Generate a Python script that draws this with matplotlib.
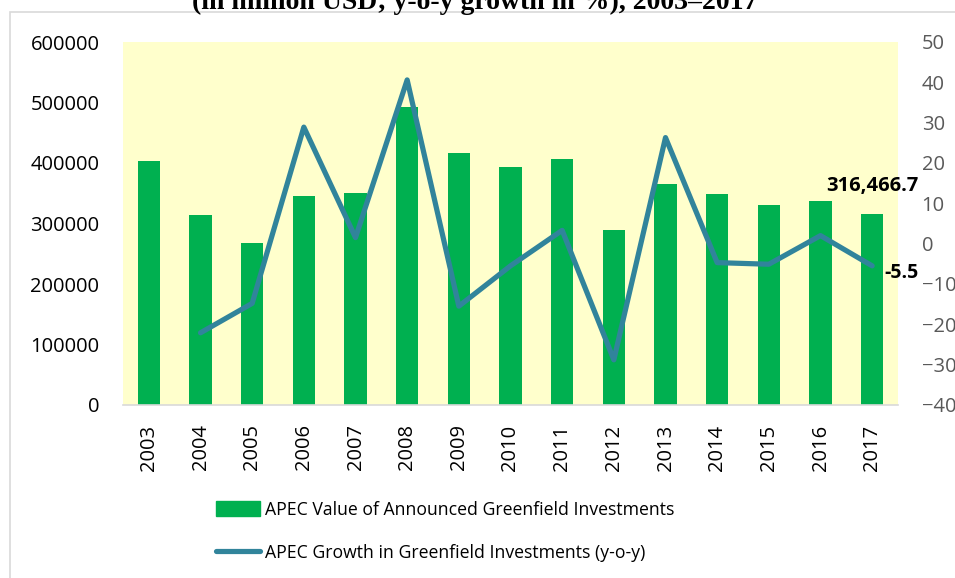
import matplotlib.pyplot as plt
import matplotlib.patches as mpatches
from matplotlib.lines import Line2D
import numpy as np

# data
years = ['2003', '2004', '2005', '2006', '2007', '2008', '2009', '2010',
         '2011', '2012', '2013', '2014', '2015', '2016', '2017']
value = [403000, 314000, 268000, 345000, 350000, 492000, 416000, 393000,
         406000, 289000, 365000, 348000, 330000, 337000, 316466.7]
growth = [np.nan, -22.1, -14.8, 28.9, 1.5, 40.6, -15.5, -5.5,
          3.3, -28.8, 26.3, -4.7, -5.1, 2.0, -5.5]

W, H = 955, 578
fig = plt.figure(figsize=(W / 100, H / 100), dpi=100)
plt.rcParams['font.family'] = ['Open Sans', 'DejaVu Sans']

# outer chart frame (top/left only visible)
fig.patches.append(mpatches.Rectangle((9.5 / W, -0.1), 1.2, 1.1 - 12.5 / H,
                                      transform=fig.transFigure, fill=False,
                                      edgecolor='#D9D9D9', lw=1.2))

ax = fig.add_axes([123 / W, 1 - 405 / H, (898 - 123) / W, (405 - 42) / H])
ax.set_facecolor('#FFFFCC')
x = np.arange(len(years))
ax.bar(x, value, width=0.43, color='#00B050', zorder=2)
ax.set_xlim(-0.5, len(years) - 0.5)
ax.set_ylim(0, 600000)
ax.set_yticks(np.arange(0, 600001, 100000))
ax.set_xticks(x)
ax.set_xticklabels(years, rotation=90, fontsize=14.5)
ax.tick_params(axis='y', labelsize=14.5, length=0, pad=17, labelcolor='black')
ax.tick_params(axis='x', length=0, pad=14)
for s in ['top', 'right', 'left']:
    ax.spines[s].set_visible(False)
ax.spines['bottom'].set_color('#D9D9D9')
ax.spines['bottom'].set_linewidth(1.2)

ax2 = ax.twinx()
ax2.plot(x, growth, color='#31849B', lw=3.75, solid_capstyle='round',
         solid_joinstyle='round', zorder=3)
ax2.set_ylim(-40, 50)
ax2.set_yticks(np.arange(-40, 51, 10))
ax2.tick_params(axis='y', labelsize=14.5, length=0, pad=17, labelcolor='#595959')
for s in ['top', 'right', 'left', 'bottom']:
    ax2.spines[s].set_visible(False)

# data labels
ax.annotate('316,466.7', (x[-1], value[-1]), xytext=(0, 19.5),
            textcoords='offset points', ha='center', va='center',
            fontsize=14.5, fontweight='bold', color='black')
ax2.annotate('-5.5', (x[-1], growth[-1]), xytext=(8.5, -5),
             textcoords='offset points', ha='left', va='center',
             fontsize=14, fontweight='bold', color='black')

# title, cut off at the top
fig.text(475 / W, 1 - 9 / H, '(in million USD; y-o-y growth in %), 2003\u20132017',
         ha='center', va='baseline', fontsize=20, fontweight='bold',
         family=['Liberation Serif', 'DejaVu Serif'])

handles = [mpatches.Patch(color='#00B050'),
           Line2D([], [], color='#31849B', lw=3.75, solid_capstyle='round')]
labels = ['APEC Value of Announced Greenfield Investments',
          'APEC Growth in Greenfield Investments (y-o-y)']
fig.legend(handles, labels, loc='upper left', bbox_to_anchor=(200 / W, 1 - 485 / H),
           frameon=False, fontsize=12.7, handlelength=2.5, handleheight=0.9,
           handletextpad=0.28, labelspacing=1.4)

fig.savefig('out.png', dpi=100)
